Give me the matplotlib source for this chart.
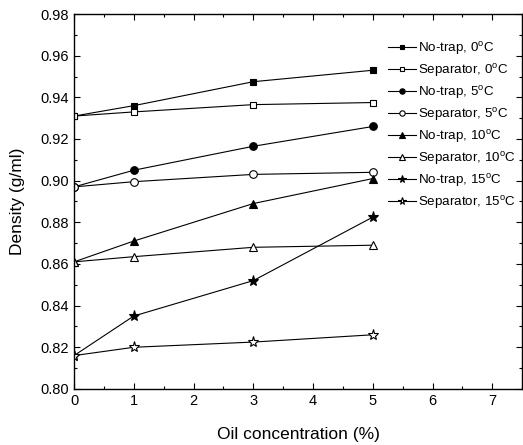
import matplotlib
matplotlib.use("Agg")
import matplotlib.pyplot as plt
from matplotlib.ticker import MultipleLocator, FormatStrFormatter

plt.rcParams['font.family'] = ['Liberation Sans', 'DejaVu Sans']
plt.rcParams['mathtext.fontset'] = 'custom'
plt.rcParams['mathtext.rm'] = 'Liberation Sans'

oil = [0, 1, 3, 5]
notrap_0 = [0.931, 0.936, 0.9475, 0.953]
sep_0 = [0.931, 0.933, 0.9365, 0.9375]
notrap_5 = [0.897, 0.905, 0.9165, 0.926]
sep_5 = [0.897, 0.8995, 0.903, 0.904]
notrap_10 = [0.861, 0.871, 0.889, 0.901]
sep_10 = [0.861, 0.8635, 0.868, 0.869]
notrap_15 = [0.816, 0.835, 0.852, 0.8825]
sep_15 = [0.816, 0.820, 0.8225, 0.826]

labels = ["No-trap, 0$^{\\rm o}$C", "Separator, 0$^{\\rm o}$C",
          "No-trap, 5$^{\\rm o}$C", "Separator, 5$^{\\rm o}$C",
          "No-trap, 10$^{\\rm o}$C", "Separator, 10$^{\\rm o}$C",
          "No-trap, 15$^{\\rm o}$C", "Separator, 15$^{\\rm o}$C"]
series = [notrap_0, sep_0, notrap_5, sep_5, notrap_10, sep_10, notrap_15, sep_15]
markers = ['s', 's', 'o', 'o', '^', '^', '*', '*']
filled = [True, False, True, False, True, False, True, False]
sizes = [5, 5, 5.5, 5.5, 6, 6, 8, 8]

fig = plt.figure(figsize=(5.23, 4.45), dpi=100)
ax = fig.add_axes([0.1415, 0.126, 0.857, 0.8425])

for y, lab, m, f, s in zip(series, labels, markers, filled, sizes):
    ax.plot(oil, y, color='black', lw=0.8, marker=m, markersize=s,
            markerfacecolor='black' if f else 'white', markeredgecolor='black',
            markeredgewidth=0.8, label=lab)

ax.set_xlim(0, 7.5)
ax.set_ylim(0.80, 0.98)
ax.xaxis.set_major_locator(MultipleLocator(1))
ax.xaxis.set_minor_locator(MultipleLocator(0.5))
ax.yaxis.set_major_locator(MultipleLocator(0.02))
ax.yaxis.set_minor_locator(MultipleLocator(0.01))
ax.yaxis.set_major_formatter(FormatStrFormatter('%.2f'))
ax.tick_params(which='both', direction='in', top=True, right=True, labelsize=10.5, width=0.8)
ax.tick_params(which='major', length=4)
ax.tick_params(which='minor', length=2)
for sp in ax.spines.values():
    sp.set_linewidth(1.0)

ax.set_xlabel("Oil concentration (%)", fontsize=12.5, labelpad=14)
ax.set_ylabel("Density (g/ml)", fontsize=12.5, labelpad=11)

ax.legend(loc='upper left', bbox_to_anchor=(0.70, 0.93), frameon=False,
          fontsize=9.6, handlelength=2.1, handletextpad=0.2, labelspacing=0.37,
          markerscale=0.7, borderpad=0, borderaxespad=0)

fig.savefig("out.png", dpi=100)
